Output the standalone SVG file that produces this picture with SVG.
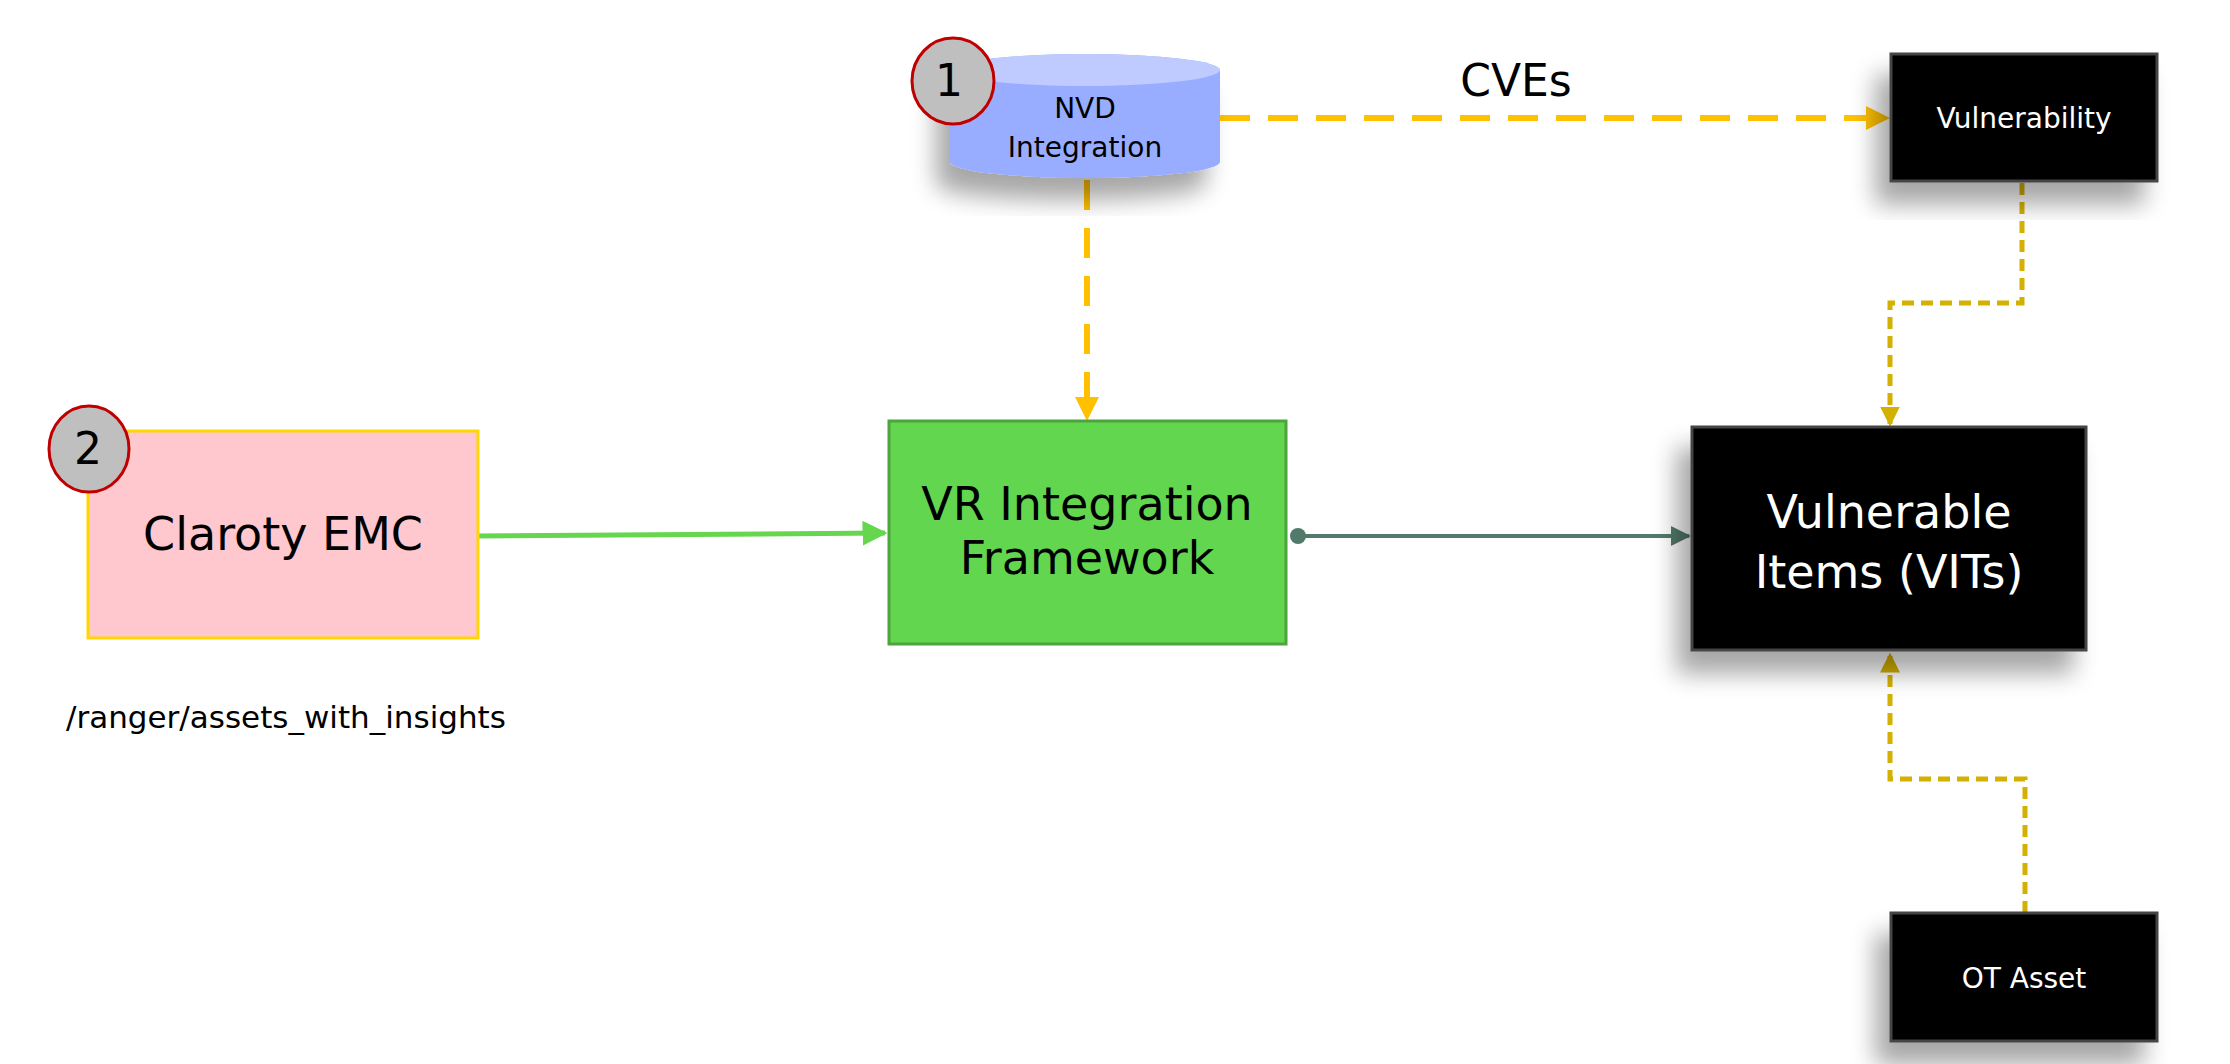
<svg xmlns="http://www.w3.org/2000/svg" width="2230" height="1064" viewBox="0 0 2230 1064">
<style>
text{font-family:"DejaVu Sans","Liberation Sans",sans-serif;text-anchor:middle}
.blk{fill:#000;stroke:#444;stroke-width:3}
.wt{fill:#fff}
.badge{fill:#BFBFBF;stroke:#C00000;stroke-width:3}
.gold{fill:none;stroke:#D4B000;stroke-width:5;stroke-dasharray:12 7}
.orange{fill:none;stroke:#FFC000;stroke-width:6;stroke-dasharray:30 18}
</style>
<defs>
<filter id="sh" x="-30%" y="-30%" width="160%" height="160%"><feGaussianBlur in="SourceAlpha" stdDeviation="12"/><feOffset dx="-14" dy="22"/><feComponentTransfer><feFuncA type="linear" slope="0.35"/></feComponentTransfer><feMerge><feMergeNode/><feMergeNode in="SourceGraphic"/></feMerge></filter>
<marker id="aO" markerWidth="4" markerHeight="4" refX="3.5" refY="2" orient="auto" markerUnits="strokeWidth"><path d="M0,0L4,2L0,4z" fill="#FFC000"/></marker>
<marker id="aG" markerWidth="4" markerHeight="4" refX="3.5" refY="2" orient="auto" markerUnits="strokeWidth"><path d="M0,0L4,2L0,4z" fill="#D4B000"/></marker>
<marker id="aL" markerWidth="5" markerHeight="5" refX="4.5" refY="2.5" orient="auto" markerUnits="strokeWidth"><path d="M0,0L5,2.5L0,5z" fill="#66D64F"/></marker>
<marker id="aD" markerWidth="5" markerHeight="5" refX="4.5" refY="2.5" orient="auto" markerUnits="strokeWidth"><path d="M0,0L5,2.5L0,5z" fill="#527A6A"/></marker>
<marker id="dot" markerWidth="4" markerHeight="4" refX="2" refY="2" orient="auto" markerUnits="strokeWidth"><circle cx="2" cy="2" r="2" fill="#527A6A"/></marker>
</defs>
<g id="connectors">
<path class="orange" d="M1220,118H1887" marker-end="url(#aO)"/>
<path class="orange" d="M1087,180V418" stroke-width="4" marker-end="url(#aO)"/>
<path class="gold" d="M2022,183V303H1890V424" marker-end="url(#aG)"/>
<path class="gold" d="M2025,913V779H1890V655" marker-end="url(#aG)"/>
<path d="M478,536L885,533" stroke="#66D64F" stroke-width="5" fill="none" marker-end="url(#aL)"/>
<path d="M1298,536H1689" stroke="#527A6A" stroke-width="4" fill="none" marker-start="url(#dot)" marker-end="url(#aD)"/>
</g>
<g id="nvd">
<g filter="url(#sh)">
<path d="M950,70V162A135,16 0 0 0 1220,162V70A135,16 0 0 0 950,70z" fill="#98ADFF"/>
<ellipse cx="1085" cy="70" rx="135" ry="16" fill="#BFCBFF"/>
</g>
<text x="1085" y="118" font-size="28">NVD</text>
<text x="1085" y="157" font-size="28">Integration</text>
<ellipse class="badge" cx="953" cy="81" rx="41" ry="43"/>
<text x="949" y="96" font-size="44">1</text>
</g>
<text id="cves" x="1516" y="96" font-size="44">CVEs</text>
<g id="vulnerability"><rect class="blk" x="1891" y="54" width="266" height="127" filter="url(#sh)"/><text class="wt" x="2024" y="128" font-size="28">Vulnerability</text></g>
<g id="vits"><rect class="blk" x="1692" y="427" width="394" height="223" filter="url(#sh)"/><text class="wt" x="1889" y="528" font-size="46">Vulnerable</text><text class="wt" x="1889" y="588" font-size="46">Items (VITs)</text></g>
<g id="otasset"><rect class="blk" x="1891" y="913" width="266" height="128" filter="url(#sh)"/><text class="wt" x="2024" y="988" font-size="28">OT Asset</text></g>
<g id="vr"><rect x="889" y="421" width="397" height="223" fill="#63D64F" stroke="#4CA43C" stroke-width="3"/><text x="1087" y="520" font-size="46">VR Integration</text><text x="1087" y="574" font-size="46">Framework</text></g>
<g id="claroty"><rect x="88" y="431" width="390" height="207" fill="#FFC7CE" stroke="#FFD700" stroke-width="3"/><text x="283" y="550" font-size="46">Claroty EMC</text>
<ellipse class="badge" cx="89" cy="449" rx="40" ry="43"/><text x="88" y="464" font-size="44">2</text></g>
<text id="path" x="66" y="728" font-size="31" style="text-anchor:start">/ranger/assets_with_insights</text>
</svg>
